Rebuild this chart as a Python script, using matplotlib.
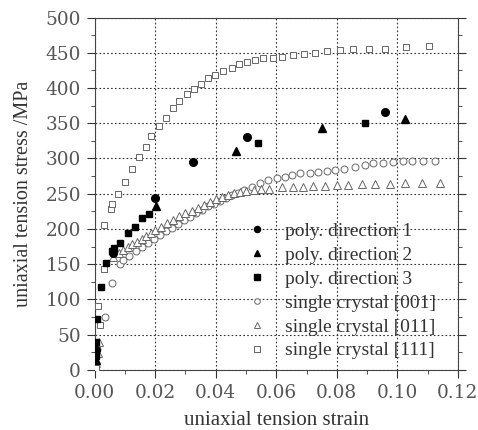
import numpy as np
import matplotlib.pyplot as plt
from matplotlib.ticker import MultipleLocator

plt.rcParams['font.family'] = ['DejaVu Serif']

# polycrystal, three loading directions (strain, stress MPa)
dir1_x = [0.0003, 0.0062, 0.0199, 0.0324, 0.0502, 0.0959]
dir1_y = [28, 166, 244, 295, 331, 366]

dir2_x = [0.0003, 0.0204, 0.0467, 0.0750, 0.1025]
dir2_y = [14, 233, 311, 344, 356]

dir3_x = [0.0003, 0.0004, 0.0009, 0.0022, 0.0039, 0.0058, 0.0064, 0.0083,
          0.0110, 0.0133, 0.0155, 0.0180, 0.0539, 0.0893]
dir3_y = [20, 40, 72, 117, 152, 168, 173, 180, 194, 203, 215, 221, 322, 351]

# single crystal [001]
sc001_x = [0.0002, 0.0007, 0.0035, 0.0057, 0.0084, 0.0095, 0.0115, 0.0135,
           0.0155, 0.0175, 0.0195, 0.0215, 0.0235, 0.0255, 0.0275, 0.0295,
           0.0315, 0.0335, 0.0355, 0.0375, 0.0395, 0.0415, 0.0435, 0.0455,
           0.0475, 0.0495, 0.0519, 0.0546, 0.0574, 0.0601, 0.0629, 0.0651,
           0.0678, 0.0711, 0.0739, 0.0766, 0.0794, 0.0825, 0.0860, 0.0893,
           0.0920, 0.0953, 0.0986, 0.1019, 0.1047, 0.1085, 0.1124]
sc001_y = [8, 30, 75, 123, 150, 156, 162, 168, 174, 180, 186, 191, 197, 202,
           207, 212, 217, 222, 227, 232, 236, 240, 244, 248, 251, 255, 260,
           265, 269, 272, 274, 276, 279, 280, 281, 282, 284, 285, 288, 291,
           293, 294, 295, 296, 297, 297, 297]

# single crystal [011]
sc011_x = [0.0004, 0.0010, 0.0016, 0.0060, 0.0080, 0.0095, 0.0110, 0.0125,
           0.0140, 0.0155, 0.0170, 0.0185, 0.0200, 0.0220, 0.0240, 0.0260,
           0.0280, 0.0300, 0.0320, 0.0340, 0.0360, 0.0380, 0.0400, 0.0420,
           0.0440, 0.0460, 0.0480, 0.0500, 0.0525, 0.0550, 0.0575, 0.0618,
           0.0656, 0.0689, 0.0722, 0.0761, 0.0799, 0.0838, 0.0882, 0.0926,
           0.0975, 0.1025, 0.1080, 0.1140]
sc011_y = [10, 24, 40, 160, 166, 170, 174, 178, 182, 186, 190, 194, 198, 203,
           208, 213, 218, 222, 226, 230, 234, 238, 242, 245, 248, 251, 253,
           254, 255, 256, 257, 259, 260, 260, 261, 261, 262, 263, 264, 264,
           264, 265, 265, 265]

# single crystal [111]
sc111_x = [0.0003, 0.0017, 0.0012, 0.0031, 0.0030, 0.0053, 0.0058, 0.0078,
           0.0101, 0.0123, 0.0147, 0.0169, 0.0186, 0.0213, 0.0236, 0.0260,
           0.0280, 0.0304, 0.0328, 0.0350, 0.0376, 0.0398, 0.0425, 0.0453,
           0.0478, 0.0504, 0.0530, 0.0557, 0.0590, 0.0618, 0.0656, 0.0691,
           0.0728, 0.0766, 0.0810, 0.0854, 0.0907, 0.0959, 0.1028, 0.1105]
sc111_y = [3, 64, 91, 143, 206, 228, 236, 250, 267, 285, 302, 317, 332, 346,
           358, 371, 382, 391, 398, 406, 414, 418, 424, 429, 434, 437, 440,
           442, 443, 444, 447, 449, 450, 452, 454, 455, 455, 455, 458, 460]

fig = plt.figure(figsize=(4.78, 4.30), dpi=100)
ax = fig.add_axes([0.198, 0.14, 0.76, 0.819])

edge = '#666666'
ax.plot(dir1_x, dir1_y, 'o', color='black', ms=5.5, label='poly. direction 1', zorder=4)
ax.plot(dir2_x, dir2_y, '^', color='black', ms=6, label='poly. direction 2', zorder=4)
ax.plot(dir3_x, dir3_y, 's', color='black', ms=5, label='poly. direction 3', zorder=4)
ax.plot(sc001_x, sc001_y, 'o', mfc='white', mec=edge, mew=0.7, ms=5,
        label='single crystal [001]', zorder=3)
ax.plot(sc011_x, sc011_y, '^', mfc='white', mec=edge, mew=0.7, ms=5.5,
        label='single crystal [011]', zorder=3)
ax.plot(sc111_x, sc111_y, 's', mfc='white', mec=edge, mew=0.7, ms=5,
        label='single crystal [111]', zorder=3)

ax.set_xlim(0, 0.12)
ax.set_ylim(0, 500)
ax.xaxis.set_major_locator(MultipleLocator(0.02))
ax.xaxis.set_minor_locator(MultipleLocator(0.01))
ax.yaxis.set_major_locator(MultipleLocator(50))
ax.yaxis.set_minor_locator(MultipleLocator(25))
ax.xaxis.set_major_formatter(plt.FormatStrFormatter('%.2f'))
ax.tick_params(which='both', direction='out', labelsize=13.3, colors='#333333',
               labelcolor='#555555')
ax.tick_params(which='major', length=6, pad=4)
ax.tick_params(which='minor', length=3)
ax.tick_params(axis='y', which='both', right=True)
ax.grid(True, which='major', color='#333333', linestyle=(0, (1.5, 2)), linewidth=0.8)
for s in ax.spines.values():
    s.set_color('#444444')

serif = ['Liberation Serif', 'DejaVu Serif']
ax.set_xlabel('uniaxial tension strain', fontsize=15, color='#333333',
              family=serif, labelpad=7)
ax.set_ylabel('uniaxial tension stress /MPa', fontsize=14.5, color='#333333',
              family=serif, labelpad=9)

ax.legend(loc='upper left', bbox_to_anchor=(0.4, 0.44), frameon=False,
          prop={'family': serif, 'size': 14}, handlelength=1.0,
          handletextpad=0.9, labelspacing=0.32, borderaxespad=0,
          labelcolor='#333333', markerscale=0.8)

fig.savefig('out.png', dpi=100)
